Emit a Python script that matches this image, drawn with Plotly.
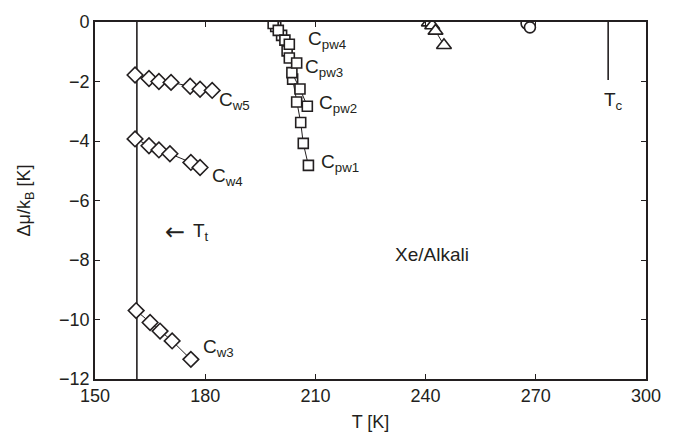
import plotly.graph_objects as go

# ---- data ----
cw5_T = [160.9, 164.7, 167.4, 170.7, 175.9, 178.6, 181.9]
cw5_y = [-1.78, -1.90, -2.00, -2.03, -2.16, -2.26, -2.30]
cw4_T = [160.9, 164.7, 167.4, 170.4, 176.1, 178.6]
cw4_y = [-3.93, -4.16, -4.30, -4.43, -4.72, -4.89]
cw3_T = [161.2, 165.0, 167.7, 171.0, 176.1]
cw3_y = [-9.70, -10.10, -10.39, -10.72, -11.34]

cpw4_T = [198.5, 199.9, 201.7, 202.9]
cpw4_y = [-0.05, -0.28, -0.61, -0.75]
cpw3_T = [199.2, 200.8, 202.3, 202.9, 204.9]
cpw3_y = [-0.15, -0.45, -0.97, -1.21, -1.38]
cpw2_T = [203.6, 205.8, 207.8]
cpw2_y = [-1.70, -2.25, -2.83]
cpw1_T = [203.8, 204.9, 206.0, 206.7, 208.1]
cpw1_y = [-1.92, -2.69, -3.38, -4.08, -4.82]

tri_T = [240.9, 241.8, 242.7, 245.0]
tri_y = [-0.02, -0.12, -0.30, -0.78]
circ_T = [267.5, 268.4]
circ_y = [-0.05, -0.18]

Tt = 161.4
Tc = 289.7
Tt_line_y = [-12, 0]
Tc_line_y = [0, -1.95]

x_ticks = [150, 180, 210, 240, 270, 300]
y_ticks = [0, -2, -4, -6, -8, -10, -12]

INK = "#231f20"
FONT = "Liberation Sans, Arial, sans-serif"
FS = 18
FA = 19

fig = go.Figure()

def add_series(T, y, symbol, size):
    fig.add_trace(go.Scatter(
        x=T, y=y, mode="lines+markers",
        line=dict(color=INK, width=1),
        marker=dict(symbol=symbol, size=size, color="white",
                    line=dict(color=INK, width=1.6)),
        showlegend=False, cliponaxis=True))

# reference lines
fig.add_trace(go.Scatter(x=[Tt, Tt], y=Tt_line_y, mode="lines",
                         line=dict(color=INK, width=1.6), showlegend=False))
fig.add_trace(go.Scatter(x=[Tc, Tc], y=Tc_line_y, mode="lines",
                         line=dict(color=INK, width=1.6), showlegend=False))

for T, y in [(cw5_T, cw5_y), (cw4_T, cw4_y), (cw3_T, cw3_y)]:
    add_series(T, y, "diamond", 12)
for T, y in [(cpw1_T, cpw1_y), (cpw2_T, cpw2_y), (cpw3_T, cpw3_y), (cpw4_T, cpw4_y)]:
    add_series(T, y, "square", 10)
add_series(tri_T, tri_y, "triangle-up", 13)
add_series(circ_T, circ_y, "circle", 11)

labels = [
    (183.2, -2.65, "C<sub>w5</sub>"),
    (181.3, -5.2, "C<sub>w4</sub>"),
    (178.8, -10.95, "C<sub>w3</sub>"),
    (207.5, -0.6, "C<sub>pw4</sub>"),
    (206.5, -1.55, "C<sub>pw3</sub>"),
    (210.5, -2.75, "C<sub>pw2</sub>"),
    (211.0, -4.75, "C<sub>pw1</sub>"),
    (288.0, -2.65, "T<sub>c</sub>"),
    (231.0, -7.8, "Xe/Alkali"),
]
for x, y, t in labels:
    fig.add_annotation(x=x, y=y, text=t, showarrow=False, xanchor="left",
                       yanchor="middle", font=dict(family=FONT, size=FA, color=INK))

fig.add_annotation(x=176.0, y=-7.05, text="T<sub>t</sub>", showarrow=False, xanchor="left",
                   yanchor="middle", font=dict(family=FONT, size=FA, color=INK))
fig.add_annotation(x=168.5, y=-7.05, text="\u2190", showarrow=False, xanchor="left",
                   yanchor="middle", font=dict(family="DejaVu Sans", size=24, color=INK))

axis_common = dict(showline=True, linecolor=INK, linewidth=1.6, mirror="ticks",
                   ticks="inside", ticklen=5, tickwidth=1, tickcolor=INK,
                   showgrid=False, zeroline=False,
                   tickfont=dict(family=FONT, size=FS, color=INK))

fig.update_xaxes(range=[150, 300], tickvals=x_ticks,
                 ticktext=[str(v) for v in x_ticks],
                 title=dict(text="T [K]", font=dict(family=FONT, size=FS, color=INK), standoff=10),
                 **axis_common)
fig.update_yaxes(range=[-12, 0], tickvals=y_ticks,
                 ticktext=[("\u2212" + str(-v)) if v < 0 else str(v) for v in y_ticks],
                 title=dict(text="\u0394\u03bc/k<sub>B</sub> [K]", font=dict(family=FONT, size=FS, color=INK), standoff=24),
                 **axis_common)

fig.update_layout(width=681, height=443, margin=dict(l=95, r=35, t=13, b=64),
                  plot_bgcolor="white", paper_bgcolor="white", showlegend=False)

fig.write_html("out.html")
